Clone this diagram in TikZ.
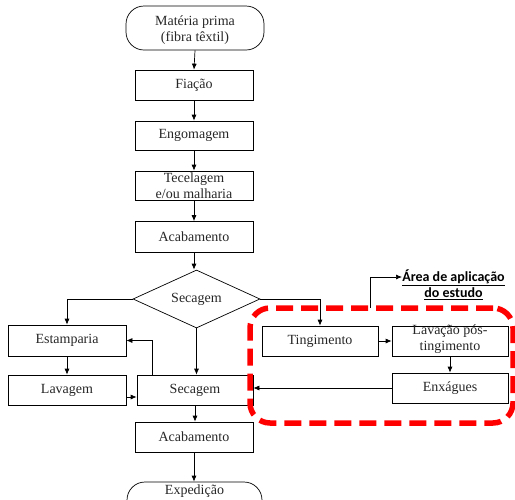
\documentclass[tikz,border=0pt]{standalone}
\usepackage{fontspec}
\setmainfont{Liberation Serif}
\newfontfamily\tms{Liberation Serif}
\newfontfamily\calib{Carlito}
\usetikzlibrary{shapes.geometric,arrows.meta}
\begin{document}
\begin{tikzpicture}[x=1pt,y=-1pt,
  every node/.style={font=\tms\fontsize{14}{16}\selectfont, text=black!85},
  box/.style={draw, line width=0.7pt, minimum width=118pt, minimum height=30pt, inner sep=0pt},
  term/.style={draw, line width=0.7pt, rounded corners=18pt, inner sep=0pt},
  arr/.style={line width=0.7pt, -{Latex[length=6pt,width=5pt]}},
  plain/.style={line width=0.7pt}
]
\useasboundingbox (0,0) rectangle (515,499);
% top chain
\node[term, minimum width=138pt, minimum height=44pt] (mp) at (195,28) {};
\node[align=center] at ([yshift=-2pt]mp.center) {Matéria prima\\(fibra têxtil)};
\node[box] (fia) at (194,85) {Fiação};
\node[box, minimum height=29pt] (eng) at (194,135.5) {Engomagem};
\node[box, minimum height=29pt] (tec) at (194,185.5) {};
\node[align=center] at (tec.center) {Tecelagem\\e/ou malharia};
\node[box, minimum height=31pt] (ac1) at (194,237) {Acabamento};
\node[draw, line width=0.7pt, shape=diamond, aspect=2.19, minimum width=127pt, minimum height=58pt, inner sep=0pt] (dia) at (196.5,299) {Secagem};
% left
\node[box, minimum height=31pt] (est) at (67,340.5) {Estamparia};
\node[box] (lav) at (67,390) {Lavagem};
\node[box, minimum width=116pt] (sec) at (195,390) {Secagem};
\node[box] (ac2) at (194,437) {Acabamento};
\node[term, minimum width=135pt, minimum height=42pt] (exp) at (194.5,503) {};
\node at (194.5,491) {Expedição};
% right
\node[box, minimum width=116pt] (tin) at (320,341) {Tingimento};
\node[box, minimum width=116pt] (lpt) at (450,341) {};
\node[align=center] at ([yshift=2pt]lpt.center) {Lavação pós-\\tingimento};
\node[box, minimum width=116pt] (enx) at (450,388) {Enxágues};
% study area
\node[draw=red, line width=5.5pt, dash pattern=on 17pt off 8pt, rounded corners=20pt,
  minimum width=263pt, minimum height=115pt, inner sep=0pt] (area) at (381.5,365.5) {};
\node[align=center, font=\calib\bfseries\fontsize{14}{16}\selectfont, text=black] (lbl) at (453.5,285)
  {\underline{Área de aplicação}\\\underline{do estudo}};
\coordinate (lblin) at (402,277);
% connectors
\draw[arr] (mp.south) -- (fia.north);
\draw[arr] (fia.south) -- (eng.north);
\draw[arr] (eng.south) -- (tec.north);
\draw[arr] (tec.south) -- (ac1.north);
\draw[arr] (ac1.south) -- (ac1.south |- dia.north);
\draw[arr] (dia.west) -| (est.north);
\draw[arr] (dia.east) -| (tin.north);
\draw[arr] (dia.south) -- (dia.south |- sec.north);
\draw[arr] ([xshift=-43pt]sec.north) |- (est.east);
\draw[arr] (est.south) -- (lav.north);
\draw[arr] ([yshift=-7pt]lav.east) -- ([yshift=-7pt]sec.west);
\draw[arr] (tin.east) -- (lpt.west);
\draw[arr] (lpt.south) -- (enx.north);
\draw[arr] (enx.west) -- (enx.west -| sec.east);
\draw[arr] (sec.south) -- (sec.south |- ac2.north);
\draw[arr] (ac2.south) -- (ac2.south |- exp.north);
\draw[arr] (370,308) |- (lblin);
\end{tikzpicture}
\end{document}
